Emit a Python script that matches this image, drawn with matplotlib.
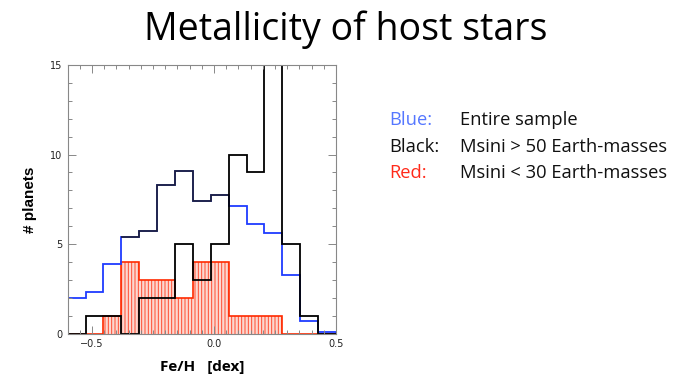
import numpy as np
import matplotlib.pyplot as plt
from matplotlib.ticker import MultipleLocator

# bins: 15 bins from -0.6 to 0.5 dex
edges = np.linspace(-0.6, 0.5, 16)

# entire sample (scaled)
blue_counts = [2.0, 2.33, 3.9, 5.42, 5.72, 8.3, 9.1, 7.41, 7.73, 7.15,
               6.13, 5.62, 3.3, 0.73, 0.11]
# Msini > 50 Earth masses
black_counts = [0, 1, 1, 0, 2, 2, 5, 3, 5, 10, 9, 15, 5, 1, 0]
# Msini < 30 Earth masses
red_counts = [0, 0, 1, 4, 3, 3, 2, 4, 4, 1, 1, 1, 0, 0, 0]

legend_keys = ['Blue:', 'Black:', 'Red:']
legend_text = ['Entire sample', 'Msini > 50 Earth-masses', 'Msini < 30 Earth-masses']
legend_colors = ['#5577ff', '#111111', '#ff2a1a']

plt.rcParams['hatch.linewidth'] = 0.7
plt.rcParams['hatch.color'] = '#ff4a30'

fig = plt.figure(figsize=(6.92, 3.87), dpi=100)
ax = fig.add_axes([0.0978, 0.1377, 0.3877, 0.6943])

# red hatched histogram
ax.stairs(red_counts, edges, fill=True, facecolor='#fcd8d0',
          edgecolor='#ff4a30', hatch='|||||', linewidth=0, baseline=0)
ax.stairs(red_counts, edges, color='#ff2a00', linewidth=1.2, baseline=0)

# blue histogram, middle part drawn dark as in original
ax.stairs(blue_counts, edges, color='#1f3cff', linewidth=1.3, baseline=0)
ax.stairs(blue_counts[3:9], edges[3:10], color='#202030', linewidth=1.2,
          baseline=None)

# black histogram
ax.stairs(black_counts, edges, color='black', linewidth=1.3, baseline=0)

ax.set_xlim(-0.6, 0.5)
ax.set_ylim(0, 15)
ax.xaxis.set_minor_locator(MultipleLocator(0.05))
ax.yaxis.set_major_locator(MultipleLocator(5))
ax.yaxis.set_minor_locator(MultipleLocator(1))
ax.set_xticks([-0.5, 0.0, 0.5])
ax.set_xticklabels(['\u22120.5', '0.0', '0.5'])
ax.tick_params(which='both', direction='in', top=True, right=True,
               color='#888888', labelsize=7, labelcolor='#222222', pad=4)
ax.tick_params(which='major', length=6, width=0.7)
ax.tick_params(which='minor', length=3, width=0.7)
for s in ax.spines.values():
    s.set_color('#888888')
    s.set_linewidth(0.8)

ax.set_ylabel('# planets', fontsize=11, fontweight='bold',
              family='Liberation Sans', labelpad=9)
ax.set_xlabel('Fe/H   [dex]', fontsize=11, fontweight='bold',
              family='Open Sans', labelpad=8)

fig.text(0.5, 1 - 40 / 387, 'Metallicity of host stars', ha='center',
         va='baseline', fontsize=27, family='Open Sans')

y0 = 1 - 125 / 387
dy = 26.5 / 387
for i in range(3):
    fig.text(389 / 692, y0 - i * dy, legend_keys[i], color=legend_colors[i],
             fontsize=13.2, family='Open Sans', va='baseline')
    fig.text(460 / 692, y0 - i * dy, legend_text[i], color='#111111',
             fontsize=13.2, family='Open Sans', va='baseline')

fig.savefig('out.png', dpi=100)
